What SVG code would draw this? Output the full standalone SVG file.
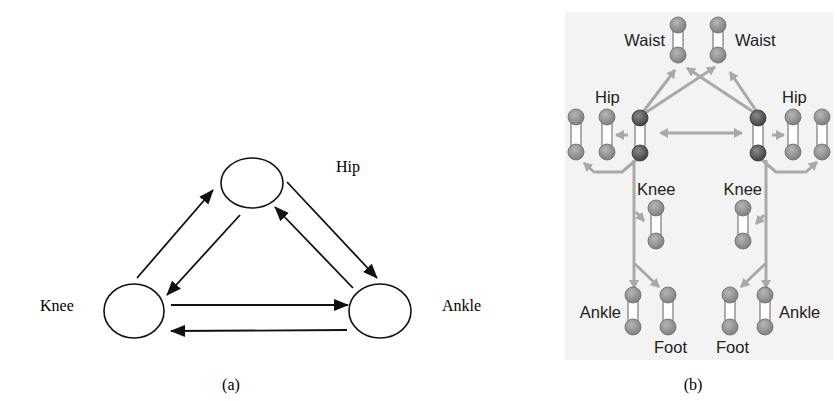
<svg xmlns="http://www.w3.org/2000/svg" width="837" height="401" viewBox="0 0 837 401">
<defs>
<style>
.bg{fill:#ffffff}
.node{fill:none;stroke:#111;stroke-width:1.6}
.edge{stroke:#111;stroke-width:1.8;fill:none}
.tser{font-family:"Liberation Serif","Times New Roman",serif;font-size:16px;fill:#000}
.tsan{font-family:"Liberation Sans",Arial,sans-serif;font-size:16.5px;fill:#222}
.link{fill:#fff;stroke:#7a7a7a;stroke-width:1.2}
.ball{fill:url(#gball);stroke:#6a6a6a;stroke-width:0.8}
.dball{fill:url(#gdark);stroke:#333;stroke-width:0.8}
.gconn{stroke:#a9a9a9;stroke-width:3;fill:none;stroke-linejoin:round}
</style>
<radialGradient id="gball" cx="0.4" cy="0.35" r="0.7">
<stop offset="0" stop-color="#b5b5b5"/>
<stop offset="1" stop-color="#7d7d7d"/>
</radialGradient>
<radialGradient id="gdark" cx="0.4" cy="0.35" r="0.7">
<stop offset="0" stop-color="#8a8a8a"/>
<stop offset="1" stop-color="#3c3c3c"/>
</radialGradient>
<marker id="ah" markerUnits="userSpaceOnUse" markerWidth="16" markerHeight="12" refX="14" refY="6" orient="auto">
<path d="M0,0 L15,6 L0,12 Z" fill="#111"/>
</marker>
<marker id="gh" markerUnits="userSpaceOnUse" markerWidth="10" markerHeight="10" refX="8" refY="5" orient="auto">
<path d="M0,0 L9,5 L0,10 Z" fill="#a9a9a9"/>
</marker>
<marker id="ghs" markerUnits="userSpaceOnUse" markerWidth="10" markerHeight="10" refX="2" refY="5" orient="auto">
<path d="M9,0 L0,5 L9,10 Z" fill="#a9a9a9"/>
</marker>
</defs>
<rect class="bg" x="0" y="0" width="837" height="401"/>

<!-- Panel (a) -->
<g id="a-connectors">
<line class="edge" x1="137" y1="278" x2="213" y2="190" marker-end="url(#ah)"/>
<line class="edge" x1="240" y1="215" x2="167" y2="295" marker-end="url(#ah)"/>
<line class="edge" x1="287" y1="182" x2="377" y2="278" marker-end="url(#ah)"/>
<line class="edge" x1="353" y1="288" x2="275" y2="207" marker-end="url(#ah)"/>
<line class="edge" x1="171" y1="305" x2="348" y2="305" marker-end="url(#ah)"/>
<line class="edge" x1="347" y1="330" x2="171" y2="331" marker-end="url(#ah)"/>
</g>
<g id="a-hip">
<ellipse class="node" cx="252" cy="183" rx="31" ry="25"/>
<text class="tser" x="336" y="172">Hip</text>
</g>
<g id="a-knee">
<ellipse class="node" cx="134" cy="311" rx="30" ry="27"/>
<text class="tser" x="40" y="311">Knee</text>
</g>
<g id="a-ankle">
<ellipse class="node" cx="380" cy="311" rx="31" ry="27"/>
<text class="tser" x="442" y="311">Ankle</text>
</g>
<text class="tser" x="231" y="390" text-anchor="middle">(a)</text>

<!-- Panel (b) -->
<rect x="565" y="12" width="268" height="348" fill="#f3f3f3"/>
<g id="b-connectors">
<line class="gconn" x1="643" y1="112" x2="675" y2="70" marker-end="url(#gh)"/>
<line class="gconn" x1="645" y1="113" x2="715" y2="67" marker-end="url(#gh)"/>
<line class="gconn" x1="755" y1="113" x2="687" y2="68" marker-end="url(#gh)"/>
<line class="gconn" x1="757" y1="112" x2="730" y2="72" marker-end="url(#gh)"/>
<line class="gconn" x1="661" y1="133" x2="742" y2="133" marker-start="url(#ghs)" marker-end="url(#gh)"/>
<line class="gconn" x1="628" y1="135" x2="616" y2="135" marker-end="url(#gh)"/>
<line class="gconn" x1="772" y1="135" x2="784" y2="135" marker-end="url(#gh)"/>
<polyline class="gconn" points="636,160 622,172 594,172 584,163" marker-end="url(#gh)"/>
<polyline class="gconn" points="762,160 776,172 806,172 817,162" marker-end="url(#gh)"/>
<line class="gconn" x1="634" y1="160" x2="634" y2="288" marker-end="url(#gh)"/>
<line class="gconn" x1="635" y1="264" x2="659" y2="287" marker-end="url(#gh)"/>
<line class="gconn" x1="636" y1="212" x2="644" y2="221" marker-end="url(#gh)"/>
<line class="gconn" x1="766" y1="160" x2="766" y2="288" marker-end="url(#gh)"/>
<line class="gconn" x1="765" y1="264" x2="741" y2="287" marker-end="url(#gh)"/>
<line class="gconn" x1="764" y1="215" x2="756" y2="224" marker-end="url(#gh)"/>
</g>

<g id="b-waist-left">
<rect class="link" x="673" y="25" width="10" height="30"/>
<circle class="ball" cx="678" cy="25" r="8"/>
<circle class="ball" cx="678" cy="55" r="8"/>
<text class="tsan" x="665" y="46" text-anchor="end">Waist</text>
</g>
<g id="b-waist-right">
<rect class="link" x="713" y="25" width="10" height="30"/>
<circle class="ball" cx="718" cy="25" r="8"/>
<circle class="ball" cx="718" cy="55" r="8"/>
<text class="tsan" x="735" y="46">Waist</text>
</g>

<g id="b-hip-left">
<rect class="link" x="571" y="117" width="10" height="35"/>
<circle class="ball" cx="576" cy="117" r="8"/>
<circle class="ball" cx="576" cy="152" r="8"/>
<rect class="link" x="602" y="117" width="10" height="35"/>
<circle class="ball" cx="607" cy="117" r="8"/>
<circle class="ball" cx="607" cy="152" r="8"/>
<rect class="link" x="635" y="118" width="10" height="35"/>
<circle class="dball" cx="640" cy="118" r="8"/>
<circle class="dball" cx="640" cy="153" r="8"/>
<text class="tsan" x="595" y="103">Hip</text>
</g>
<g id="b-hip-right">
<rect class="link" x="753" y="118" width="10" height="35"/>
<circle class="dball" cx="758" cy="118" r="8"/>
<circle class="dball" cx="758" cy="153" r="8"/>
<rect class="link" x="788" y="117" width="10" height="35"/>
<circle class="ball" cx="793" cy="117" r="8"/>
<circle class="ball" cx="793" cy="152" r="8"/>
<rect class="link" x="817" y="117" width="10" height="35"/>
<circle class="ball" cx="822" cy="117" r="8"/>
<circle class="ball" cx="822" cy="152" r="8"/>
<text class="tsan" x="782" y="103">Hip</text>
</g>

<g id="b-knee-left">
<rect class="link" x="651" y="208" width="10" height="33"/>
<circle class="ball" cx="656" cy="208" r="8"/>
<circle class="ball" cx="656" cy="241" r="8"/>
<text class="tsan" x="637" y="195">Knee</text>
</g>
<g id="b-knee-right">
<rect class="link" x="738" y="208" width="10" height="33"/>
<circle class="ball" cx="743" cy="208" r="8"/>
<circle class="ball" cx="743" cy="241" r="8"/>
<text class="tsan" x="762" y="195" text-anchor="end">Knee</text>
</g>

<g id="b-ankle-left">
<rect class="link" x="628" y="295" width="10" height="32"/>
<circle class="ball" cx="633" cy="295" r="8"/>
<circle class="ball" cx="633" cy="327" r="8"/>
<text class="tsan" x="621" y="318" text-anchor="end">Ankle</text>
</g>
<g id="b-foot-left">
<rect class="link" x="663" y="295" width="10" height="32"/>
<circle class="ball" cx="668" cy="295" r="8"/>
<circle class="ball" cx="668" cy="327" r="8"/>
<text class="tsan" x="654" y="353">Foot</text>
</g>
<g id="b-foot-right">
<rect class="link" x="725" y="295" width="10" height="32"/>
<circle class="ball" cx="730" cy="295" r="8"/>
<circle class="ball" cx="730" cy="327" r="8"/>
<text class="tsan" x="716" y="353">Foot</text>
</g>
<g id="b-ankle-right">
<rect class="link" x="760" y="295" width="10" height="32"/>
<circle class="ball" cx="765" cy="295" r="8"/>
<circle class="ball" cx="765" cy="327" r="8"/>
<text class="tsan" x="779" y="318">Ankle</text>
</g>
<text class="tser" x="693" y="390" text-anchor="middle">(b)</text>
</svg>
